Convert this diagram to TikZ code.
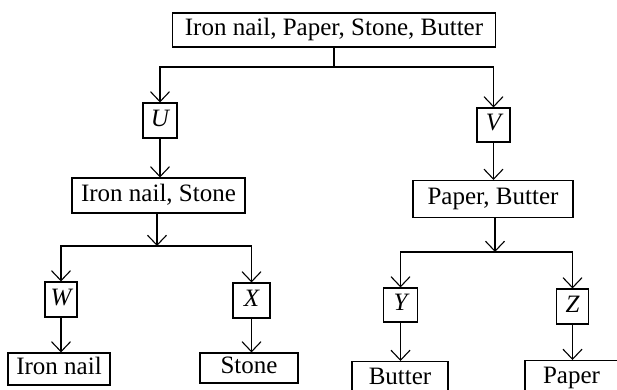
\documentclass[tikz,border=0pt]{standalone}
\usepackage{fontspec}
\setmainfont{Liberation Serif}
\usetikzlibrary{arrows.meta}
\begin{document}
\begin{tikzpicture}[x=1pt,y=-1pt,
  box/.style={draw, line width=1.1pt, inner sep=0pt,
    font=\fontsize{25}{29}\selectfont, text height=17pt, text depth=5.2pt},
  conn/.style={line width=1.1pt},
  arr/.style={conn, -{Straight Barb[length=10pt,width=19pt,line width=1.1pt]}}]
\useasboundingbox (0,0) rectangle (617,389);
\clip (0,0) rectangle (617,389);
\fill[white] (0,0) rectangle (617,389);
% nodes
\node[box, minimum width=323pt, minimum height=34pt] (top) at (334,30) {Iron nail, Paper, Stone, Butter};
\node[box, minimum width=34pt, minimum height=35pt] (U) at (160,120.5) {\itshape U};
\node[box, minimum width=33pt, minimum height=34pt] (V) at (493.5,125) {\itshape V};
\node[box, minimum width=173pt, minimum height=35pt] (INS) at (158.5,195.5) {Iron nail, Stone};
\node[box, minimum width=160pt, minimum height=37pt] (PB) at (493,199) {Paper, Butter};
\node[box, minimum width=32pt, minimum height=35pt] (W) at (61,299.5) {\itshape W};
\node[box, minimum width=37pt, minimum height=35pt] (X) at (251.5,300.5) {\itshape X};
\node[box, minimum width=34pt, minimum height=34pt] (Y) at (400.5,305) {\itshape Y};
\node[box, minimum width=32pt, minimum height=35pt] (Z) at (572.5,306.5) {\itshape Z};
\node[box, minimum width=102pt, minimum height=32pt] (IN) at (59,369) {Iron nail};
\node[box, minimum width=98pt, minimum height=30pt] (ST) at (249,368) {Stone};
\node[box, anchor=north, minimum width=96pt, minimum height=34pt] (BU) at (400,361) {Butter};
\node[box, anchor=north, minimum width=93pt, minimum height=34pt] (PA) at (571.5,360) {Paper};
% junctions
\coordinate (j1) at (334,67);
\coordinate (j2) at (157,246);
\coordinate (j3) at (495,252);
% connectors
\draw[conn] (top.south) -- (j1);
\draw[arr] (j1) -| (U.north);
\draw[arr] (j1) -| (V.north);
\draw[arr] (U.south) -- (U.south |- INS.north);
\draw[arr] (V.south) -- (V.south |- PB.north);
\draw[arr] (INS.south -| j2) -- (j2);
\draw[arr] (PB.south -| j3) -- (j3);
\draw[arr] (j2) -| (W.north);
\draw[arr] (j2) -| (X.north);
\draw[arr] (j3) -| (Y.north);
\draw[arr] (j3) -| (Z.north);
\draw[arr] (W.south) -- (W.south |- IN.north);
\draw[arr] (X.south) -- (X.south |- ST.north);
\draw[arr] (Y.south) -- (Y.south |- BU.north);
\draw[arr] (Z.south) -- (Z.south |- PA.north);
\end{tikzpicture}
\end{document}
